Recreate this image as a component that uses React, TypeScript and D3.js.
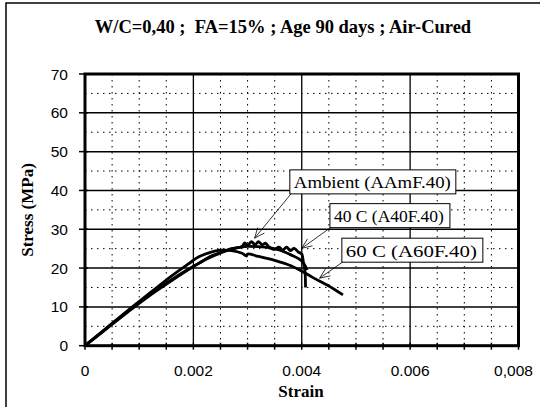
import React from "react";
import * as d3 from "d3";

const titleText = "W/C=0,40 ;\u00a0 FA=15% ; Age 90 days ; Air-Cured";
const xTickValues = [0, 0.002, 0.004, 0.006, 0.008];
const xTickLabels = ["0", "0.002", "0.004", "0.006", "0,008"];
const yTickValues = [0, 10, 20, 30, 40, 50, 60, 70];

// strain / stress (MPa)
const ambientStrain = [0, 0.0004, 0.0008, 0.0012, 0.0016, 0.0018, 0.00195, 0.0021, 0.0023, 0.0025, 0.0027, 0.0029, 0.00295, 0.003, 0.00307, 0.00314, 0.0032, 0.00327, 0.00333, 0.0034, 0.0036, 0.0038, 0.004, 0.0041];
const ambientStress = [0, 4.5, 9.0, 13.2, 17.0, 18.8, 20.0, 21.2, 22.9, 24.0, 25.0, 25.6, 26.5, 25.8, 26.8, 26.0, 26.8, 26.0, 26.4, 25.4, 24.6, 23.4, 21.8, 19.5];

const c40Strain = [0, 0.0004, 0.0008, 0.0012, 0.0016, 0.002, 0.0022, 0.0024, 0.0026, 0.0028, 0.003, 0.0032, 0.0034, 0.0035, 0.00358, 0.00365, 0.00372, 0.00379, 0.00386, 0.00393, 0.004, 0.00403, 0.00406, 0.00407];
const c40Stress = [0, 4.4, 8.8, 13.0, 16.8, 20.4, 22.0, 23.3, 24.4, 25.2, 25.6, 25.5, 25.2, 24.8, 25.4, 24.6, 25.4, 24.5, 25.1, 24.2, 23.6, 21.5, 19.0, 15.0];

const c60Strain = [0, 0.0004, 0.0008, 0.0012, 0.0016, 0.0019, 0.0021, 0.0023, 0.0025, 0.0027, 0.0029, 0.00298, 0.003, 0.0032, 0.0035, 0.0038, 0.004, 0.0042, 0.0045, 0.00476];
const c60Stress = [0, 4.6, 9.2, 13.6, 18.0, 21.0, 22.9, 24.0, 24.6, 24.5, 23.8, 23.1, 23.6, 23.0, 22.0, 20.6, 19.2, 17.6, 15.4, 13.1];

const seriesNames = ["Ambient (AAmF.40)", "40 C (A40F.40)", "60 C (A60F.40)"];
const seriesStrain = [ambientStrain, c40Strain, c60Strain];
const seriesStress = [ambientStress, c40Stress, c60Stress];

// annotation: arrow tip (data) and label box (data, top-left)
const noteTipStrain = [0.00313, 0.004, 0.00433];
const noteTipStress = [27.7, 25.1, 17.4];
const noteBoxStrain = [0.00378, 0.00452, 0.00474];
const noteBoxStress = [45.3, 36.6, 27.7];
const noteBoxWidth = [166, 120, 141];
const noteTextLength = [157, 110, 131];

export default function App() {
  const width = 540;
  const height = 407;
  const x = d3.scaleLinear().domain([0, 0.008]).range([85, 518.5]);
  const y = d3.scaleLinear().domain([0, 70]).range([345.7, 74]);

  const line = d3
    .line<[number, number]>()
    .x((d) => x(d[0]))
    .y((d) => y(d[1]))
    .curve(d3.curveCatmullRom.alpha(0.5));

  const minorX = d3.range(0, 17).map((i) => i * 0.0005).filter((v, i) => i % 4 !== 0);
  const minorY = d3.range(1, 14, 2).map((i) => i * 5);
  const tickX = d3.range(0, 17).map((i) => i * 0.0005);

  const serif = "'Liberation Serif', 'Times New Roman', serif";
  const sans = "'Liberation Sans', Arial, sans-serif";

  return (
    <svg width={width} height={height} style={{ position: "absolute", left: 0, top: 0, background: "#fff" }}>
      <rect x={6} y={3} width={560} height={430} fill="none" stroke="#000" strokeWidth={1.5} />
      <text x={283} y={33} textAnchor="middle" fontFamily={serif} fontWeight="bold" fontSize={18.5}>
        {titleText}
      </text>

      {/* dotted grid */}
      {minorX.map((v) => (
        <line key={"mx" + v} x1={x(v)} x2={x(v)} y1={y(70)} y2={y(0)} stroke="#000" strokeWidth={1} strokeDasharray="1.5,4.5" />
      ))}
      {minorY.map((v) => (
        <line key={"my" + v} x1={x(0)} x2={x(0.008)} y1={y(v)} y2={y(v)} stroke="#000" strokeWidth={1} strokeDasharray="1.5,4.5" />
      ))}
      {/* solid grid */}
      {xTickValues.slice(1, -1).map((v) => (
        <line key={"gx" + v} x1={x(v)} x2={x(v)} y1={y(70)} y2={y(0)} stroke="#000" strokeWidth={1.3} />
      ))}
      {yTickValues.slice(1, -1).map((v) => (
        <line key={"gy" + v} x1={x(0)} x2={x(0.008)} y1={y(v)} y2={y(v)} stroke="#000" strokeWidth={1.5} />
      ))}

      {/* ticks */}
      {yTickValues.map((v) => (
        <line key={"ty" + v} x1={x(0) - 6} x2={x(0) + 3} y1={y(v)} y2={y(v)} stroke="#000" strokeWidth={1.5} />
      ))}
      {tickX.map((v) => (
        <line key={"tx" + v} x1={x(v)} x2={x(v)} y1={y(0) - 3} y2={y(0) + 4} stroke="#000" strokeWidth={1.5} />
      ))}

      {/* curves */}
      {seriesNames.map((name, i) => (
        <path
          key={name}
          d={line(seriesStrain[i].map((s, j) => [s, seriesStress[i][j]] as [number, number])) || ""}
          fill="none"
          stroke="#000"
          strokeWidth={2.8}
          strokeLinejoin="round"
        />
      ))}

      <rect x={x(0)} y={y(70)} width={x(0.008) - x(0)} height={y(0) - y(70)} fill="none" stroke="#000" strokeWidth={3} />

      {/* tick labels */}
      {yTickValues.map((v) => (
        <text key={"ly" + v} x={68} y={y(v) + 5.5} textAnchor="end" fontFamily={sans} fontSize={15.5}>
          {String(v)}
        </text>
      ))}
      {xTickValues.map((v, i) => (
        <text key={"lx" + v} x={i === 4 ? x(v) - 5 : x(v)} y={376} textAnchor="middle" fontFamily={sans} fontSize={15.5}>
          {xTickLabels[i]}
        </text>
      ))}

      <text x={301} y={397} textAnchor="middle" fontFamily={serif} fontWeight="bold" fontSize={17}>
        Strain
      </text>
      <text
        transform="translate(33,210) rotate(-90)"
        textAnchor="middle"
        fontFamily={serif}
        fontWeight="bold"
        fontSize={17}
      >
        Stress (MPa)
      </text>

      {/* annotations */}
      {seriesNames.map((name, i) => {
        const bx = x(noteBoxStrain[i]);
        const by = y(noteBoxStress[i]);
        const tx = x(noteTipStrain[i]);
        const ty = y(noteTipStress[i]);
        const sx = bx + 2;
        const sy = by + 23;
        const ang = Math.atan2(sy - ty, sx - tx);
        const len = 11;
        const spread = 0.4;
        return (
          <g key={"n" + name}>
            <line x1={sx} y1={sy} x2={tx} y2={ty} stroke="#000" strokeWidth={0.8} />
            <polyline
              points={`${tx + len * Math.cos(ang - spread)},${ty + len * Math.sin(ang - spread)} ${tx},${ty} ${tx + len * Math.cos(ang + spread)},${ty + len * Math.sin(ang + spread)}`}
              fill="none"
              stroke="#000"
              strokeWidth={0.8}
            />
            <rect x={bx} y={by} width={noteBoxWidth[i]} height={24} fill="#fff" stroke="#000" strokeWidth={1} />
            <text
              x={bx + 4}
              y={by + 18.5}
              fontFamily={serif}
              fontSize={17.5}
              textLength={noteTextLength[i]}
              lengthAdjust="spacingAndGlyphs"
            >
              {name}
            </text>
          </g>
        );
      })}
    </svg>
  );
}
